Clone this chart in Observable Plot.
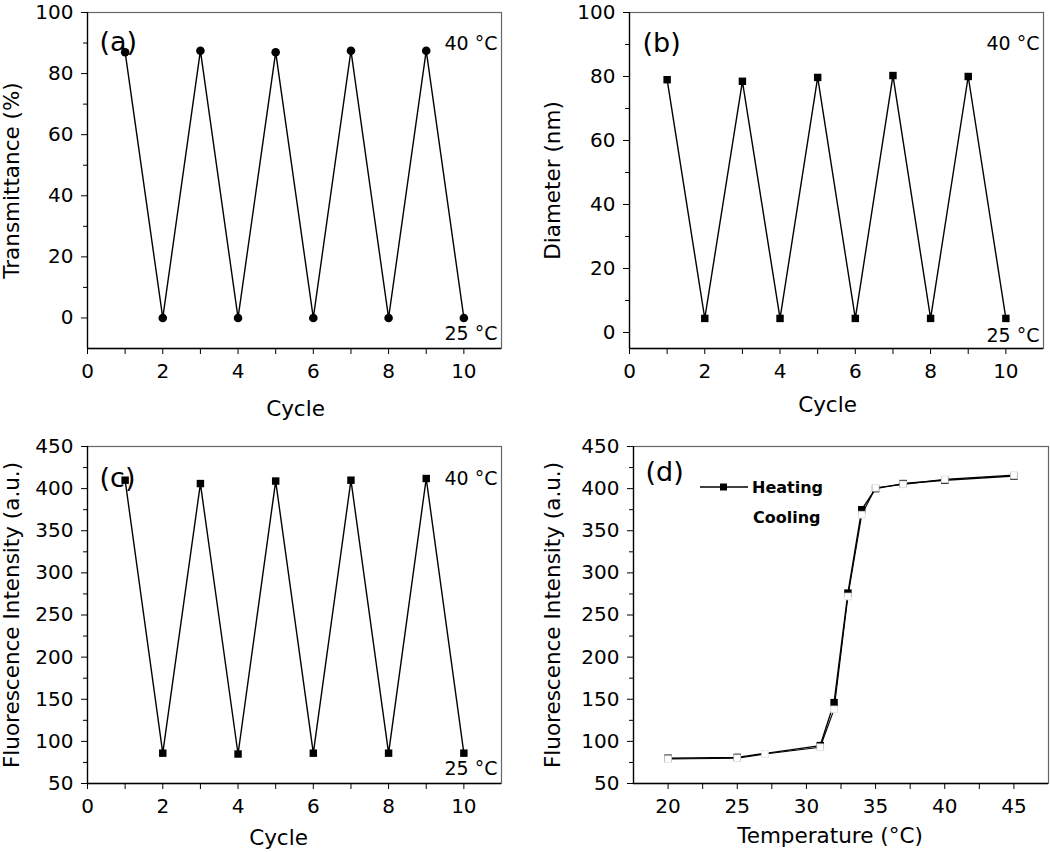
<!DOCTYPE html>
<html>
<head>
<meta charset="utf-8">
<script src="https://cdn.jsdelivr.net/npm/d3@7"></script>
<script src="https://cdn.jsdelivr.net/npm/@observablehq/plot@0.6"></script>
<style>
  html, body { margin: 0; padding: 0; background: #fff; }
  #wrap { position: relative; width: 1050px; height: 852px; overflow: hidden; font-family: "DejaVu Sans", sans-serif; }
  .pane { position: absolute; }
  #legend { position: absolute; left: 0; top: 0; width: 1050px; height: 852px; pointer-events: none; }
</style>
</head>
<body>
<div id="wrap">
  <div class="pane" id="pa" style="left:0;top:0"></div>
  <div class="pane" id="pb" style="left:525px;top:0"></div>
  <div class="pane" id="pc" style="left:0;top:425px"></div>
  <div class="pane" id="pd" style="left:525px;top:425px"></div>
</div>
<script>
// ---------------- data ----------------
const cycles = [1, 2, 3, 4, 5, 6, 7, 8, 9, 10];
const transmittance = [87, 0, 87.5, 0, 87, 0, 87.5, 0, 87.5, 0];
const diameter = [79, 4.4, 78.5, 4.4, 79.7, 4.4, 80.3, 4.4, 80, 4.4];
const fluorescence = [410, 86, 406, 85, 409, 86, 410, 86, 412, 86];

const heatTemp = [20, 25, 31, 32, 33, 34, 35, 37, 40, 45];
const heatFluor = [80, 81, 95, 146, 276, 375, 400, 406, 410, 415];
const coolTemp = [20, 25, 27, 31, 32, 33, 34, 35, 37, 40, 45];
const coolFluor = [79, 80, 85, 93, 138, 272, 369, 401, 405, 411, 416];

const cycleMajor = [0, 2, 4, 6, 8, 10];
const cycleMinor = [1, 3, 5, 7, 9];
const pctMajor = [0, 20, 40, 60, 80, 100];
const pctMinor = [10, 30, 50, 70, 90];
const fluorMajor = [50, 100, 150, 200, 250, 300, 350, 400, 450];
const fluorMinor = [75, 125, 175, 225, 275, 325, 375, 425];
const tempMajor = [20, 25, 30, 35, 40, 45];
const tempMinor = [22.5, 27.5, 32.5, 37.5, 42.5];

const tableA = cycles.map((c, i) => ({x: c, y: transmittance[i]}));
const tableB = cycles.map((c, i) => ({x: c, y: diameter[i]}));
const tableC = cycles.map((c, i) => ({x: c, y: fluorescence[i]}));
const tableHeat = heatTemp.map((t, i) => ({x: t, y: heatFluor[i]}));
const tableCool = coolTemp.map((t, i) => ({x: t, y: coolFluor[i]}));

const FONT = '"DejaVu Sans", sans-serif';

function axes(o) {
  return [
    Plot.frame({stroke: "#666", strokeWidth: 1.2}),
    Plot.axisX({ticks: o.xMajor, tickSize: 6, tickPadding: 9, fontSize: 20, label: null, tickFormat: d => String(d)}),
    Plot.axisX({ticks: o.xMinor, tickSize: 6, tickFormat: () => "", label: null}),
    Plot.axisY({ticks: o.yMajor, tickSize: 6, tickPadding: 8, fontSize: 20, label: null, tickFormat: d => String(d)}),
    Plot.axisY({ticks: o.yMinor, tickSize: 4, tickFormat: () => "", label: null}),
    Plot.ruleX([o.xDomain[0]], {stroke: "#000", strokeWidth: 1.3}),
    Plot.ruleY([o.yDomain[0]], {stroke: "#000", strokeWidth: 1.3}),
    Plot.text([o.ylabel], {frameAnchor: "left", rotate: -90, dx: o.ylDx, text: d => d, fontSize: 21.5, textAnchor: "middle", lineAnchor: "middle", fill: "#000"}),
    Plot.text([o.xlabel], {frameAnchor: "bottom", dx: o.xlDx, dy: o.xlDy, text: d => d, fontSize: 21.5, textAnchor: "middle", lineAnchor: "middle", fill: "#000"}),
    Plot.text([o.tag], {frameAnchor: "top-left", dx: o.tagDx, dy: o.tagDy, text: d => d, fontSize: 27, textAnchor: "start", lineAnchor: "middle", fill: "#000"})
  ];
}

function tempNotes(hiDy, loDy) {
  return [
    Plot.text(["40 \u00B0C"], {frameAnchor: "top-right", dx: -4, dy: hiDy, text: d => d, fontSize: 19, textAnchor: "end", lineAnchor: "middle", fill: "#000"}),
    Plot.text(["25 \u00B0C"], {frameAnchor: "bottom-right", dx: -4, dy: loDy, text: d => d, fontSize: 19, textAnchor: "end", lineAnchor: "middle", fill: "#000"})
  ];
}

function make(o, marks) {
  return Plot.plot({
    width: o.width, height: o.height,
    marginLeft: o.ml, marginRight: o.mr, marginTop: o.mt, marginBottom: o.mb,
    x: {domain: o.xDomain, axis: null},
    y: {domain: o.yDomain, axis: null},
    style: {fontFamily: FONT, color: "#000", background: "transparent", overflow: "visible"},
    marks: [...marks, ...axes(o)]
  });
}

// (a)
const oa = {width: 525, height: 425, ml: 87, mr: 24, mt: 12, mb: 77,
  xDomain: [0, 11], yDomain: [-10, 100], xMajor: cycleMajor, xMinor: cycleMinor, yMajor: pctMajor, yMinor: pctMinor,
  ylabel: "Transmittance (%)", ylDx: -75, xlabel: "Cycle", xlDx: 1, xlDy: 61, tag: "(a)", tagDx: 12, tagDy: 30};
document.getElementById("pa").append(make(oa, [
  Plot.line(tableA, {x: "x", y: "y", stroke: "#000", strokeWidth: 1.4}),
  Plot.dot(tableA, {x: "x", y: "y", r: 4.3, fill: "#000", stroke: "none"}),
  ...tempNotes(31, -15)
]));

// (b)
const ob = {width: 525, height: 425, ml: 104, mr: 7, mt: 12, mb: 77,
  xDomain: [0, 11], yDomain: [-5, 100], xMajor: cycleMajor, xMinor: cycleMinor, yMajor: pctMajor, yMinor: pctMinor,
  ylabel: "Diameter (nm)", ylDx: -76, xlabel: "Cycle", xlDx: -9, xlDy: 57, tag: "(b)", tagDx: 13, tagDy: 31};
document.getElementById("pb").append(make(ob, [
  Plot.line(tableB, {x: "x", y: "y", stroke: "#000", strokeWidth: 1.4}),
  Plot.dot(tableB, {x: "x", y: "y", r: 4.2, symbol: "square", fill: "#000", stroke: "none"}),
  ...tempNotes(31, -13)
]));

// (c)
const oc = {width: 525, height: 427, ml: 87, mr: 24, mt: 21, mb: 69,
  xDomain: [0, 11], yDomain: [50, 450], xMajor: cycleMajor, xMinor: cycleMinor, yMajor: fluorMajor, yMinor: fluorMinor,
  ylabel: "Fluorescence Intensity (a.u.)", ylDx: -75, xlabel: "Cycle", xlDx: -16, xlDy: 55, tag: "(c)", tagDx: 12, tagDy: 32};
document.getElementById("pc").append(make(oc, [
  Plot.line(tableC, {x: "x", y: "y", stroke: "#000", strokeWidth: 1.4}),
  Plot.dot(tableC, {x: "x", y: "y", r: 4.2, symbol: "square", fill: "#000", stroke: "none"}),
  ...tempNotes(32, -15)
]));

// (d)
const od = {width: 525, height: 427, ml: 108, mr: 2, mt: 21, mb: 69,
  xDomain: [17.5, 47.5], yDomain: [50, 450], xMajor: tempMajor, xMinor: tempMinor, yMajor: fluorMajor, yMinor: fluorMinor,
  ylabel: "Fluorescence Intensity (a.u.)", ylDx: -80, xlabel: "Temperature (\u00B0C)", xlDx: -11, xlDy: 53, tag: "(d)", tagDx: 12, tagDy: 26};
document.getElementById("pd").append(make(od, [
  Plot.line(tableHeat, {x: "x", y: "y", stroke: "#000", strokeWidth: 1.4}),
  Plot.line(tableCool, {x: "x", y: "y", stroke: "#000", strokeWidth: 1.1}),
  Plot.dot(tableHeat, {x: "x", y: "y", r: 4.2, symbol: "square", fill: "#000", stroke: "none"}),
  Plot.dot(tableCool, {x: "x", y: "y", r: 3.8, symbol: "square", fill: "#fff", stroke: "#ddd", strokeWidth: 0.8})
]));

// legend for (d), drawn as a small overlay
const ns = "http://www.w3.org/2000/svg";
const lg = document.createElementNS(ns, "svg");
lg.setAttribute("id", "legend");
lg.setAttribute("width", 1050); lg.setAttribute("height", 852);
lg.innerHTML = `
  <line x1="700" y1="487" x2="748" y2="487" stroke="#000" stroke-width="1.4"/>
  <rect x="720" y="483.5" width="7" height="7" fill="#000"/>
  <text x="752" y="493" font-family='${FONT}' font-weight="bold" font-size="16" fill="#000">Heating</text>
  <text x="753" y="523" font-family='${FONT}' font-weight="bold" font-size="16" fill="#000">Cooling</text>`;
document.getElementById("wrap").append(lg);
</script>
</body>
</html>
